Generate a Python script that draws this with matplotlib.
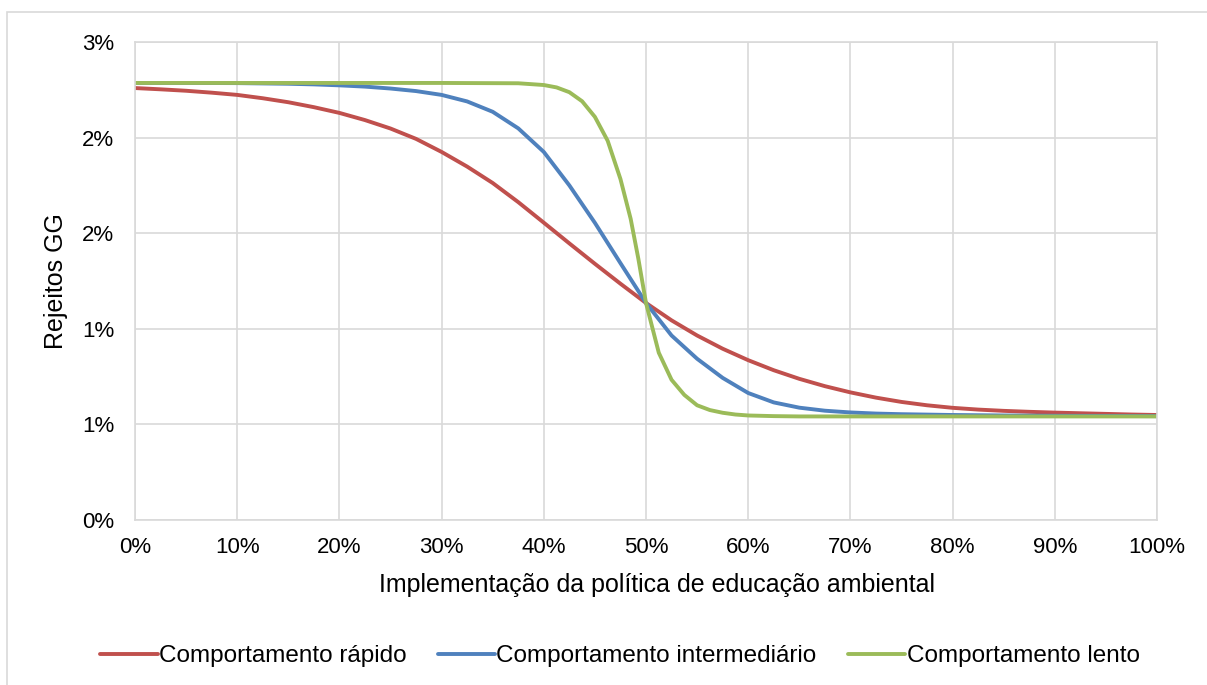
import matplotlib
matplotlib.use("Agg")
import matplotlib.pyplot as plt
from matplotlib.patches import Rectangle
from matplotlib.ticker import FuncFormatter

# valores (x em %, y em % de rejeitos)
x_rapido = [0, 2.5, 5, 7.5, 10, 12.5, 15, 17.5, 20, 22.5, 25, 27.5, 30, 32.5, 35,
            37.5, 40, 42.5, 45, 47.5, 50, 52.5, 55, 57.5, 60, 62.5, 65, 67.5, 70,
            72.5, 75, 77.5, 80, 82.5, 85, 87.5, 90, 92.5, 95, 97.5, 100]
y_rapido = [2.711, 2.703, 2.694, 2.682, 2.668, 2.647, 2.622, 2.591, 2.555, 2.51,
            2.457, 2.392, 2.31, 2.218, 2.115, 1.995, 1.866, 1.736, 1.608, 1.483,
            1.362, 1.253, 1.158, 1.075, 1.003, 0.94, 0.886, 0.84, 0.801, 0.768,
            0.741, 0.72, 0.704, 0.693, 0.685, 0.679, 0.674, 0.67, 0.666, 0.662,
            0.659]

x_intermediario = [0, 5, 10, 15, 17.5, 20, 22.5, 25, 27.5, 30, 32.5, 35, 37.5, 40,
                   42.5, 45, 47.5, 50, 52.5, 55, 57.5, 60, 62.5, 65, 67.5, 70, 72.5,
                   75, 80, 85, 90, 100]
y_intermediario = [2.743, 2.743, 2.742, 2.738, 2.734, 2.728, 2.72, 2.708, 2.692,
                   2.668, 2.627, 2.562, 2.458, 2.31, 2.1, 1.865, 1.612, 1.362, 1.158,
                   1.012, 0.892, 0.797, 0.738, 0.705, 0.686, 0.675, 0.668, 0.664,
                   0.659, 0.656, 0.654, 0.652]

x_lento = [0, 30, 37.5, 40, 41.25, 42.5, 43.75, 45, 46.25, 47.5, 48.5, 49.25, 50,
           51.25, 52.5, 53.75, 55, 56.25, 57.5, 58.75, 60, 62.5, 65, 100]
y_lento = [2.743, 2.743, 2.741, 2.73, 2.715, 2.685, 2.628, 2.53, 2.38, 2.14, 1.89,
           1.64, 1.362, 1.05, 0.88, 0.785, 0.72, 0.69, 0.673, 0.662, 0.656, 0.652,
           0.65, 0.65]

series = [
    ("Comportamento rápido", x_rapido, y_rapido, "#C0504D"),
    ("Comportamento intermediário", x_intermediario, y_intermediario, "#4F81BD"),
    ("Comportamento lento", x_lento, y_lento, "#9BBB59"),
]

y_ticks = [0, 0.6, 1.2, 1.8, 2.4, 3.0]
x_ticks = list(range(0, 101, 10))

plt.rcParams["font.family"] = ["Liberation Sans", "DejaVu Sans"]

W, H = 1207, 685
fig = plt.figure(figsize=(W / 100, H / 100), dpi=100)
ax = fig.add_axes([135 / W, 1 - 520 / H, 1022 / W, 478 / H])

for label, xs, ys, color in series:
    ax.plot(xs, ys, color=color, lw=2.8, label=label, solid_capstyle="round",
            solid_joinstyle="round")

ax.set_xlim(0, 100)
ax.set_ylim(0, 3.0)
ax.set_xticks(x_ticks)
ax.set_yticks(y_ticks)
ax.xaxis.set_major_formatter(FuncFormatter(lambda v, _: f"{v:.0f}%"))
ax.yaxis.set_major_formatter(FuncFormatter(lambda v, _: f"{v:.0f}%"))
ax.tick_params(length=0, labelsize=16, colors="#000000")
ax.tick_params(axis="x", pad=12)
ax.tick_params(axis="y", pad=15)
ax.grid(True, color="#D9D9D9", lw=1.2)
ax.set_axisbelow(True)
for side in ax.spines.values():
    side.set_color("#D9D9D9")
    side.set_linewidth(1.2)

ax.set_xlabel("Implementação da política de educação ambiental", fontsize=18,
              va="center")
ax.set_ylabel("Rejeitos GG", fontsize=18, va="center")
ax.xaxis.set_label_coords(0.511, -(585 - 520) / 478)
ax.yaxis.set_label_coords((56 - 135) / 1022, 0.5)

fig.legend(loc="center", bbox_to_anchor=(620 / W, 1 - 656 / H), ncol=3,
           frameon=False, fontsize=17.5, handlelength=2.35, handletextpad=0.05,
           columnspacing=1.3)

# borda da área do gráfico
fig.patches.append(Rectangle((7 / W, -0.1), 1.2, 1 - 12 / H + 0.1,
                             transform=fig.transFigure, fill=False,
                             edgecolor="#D9D9D9", lw=1.2))

fig.savefig("out.png", dpi=100)
